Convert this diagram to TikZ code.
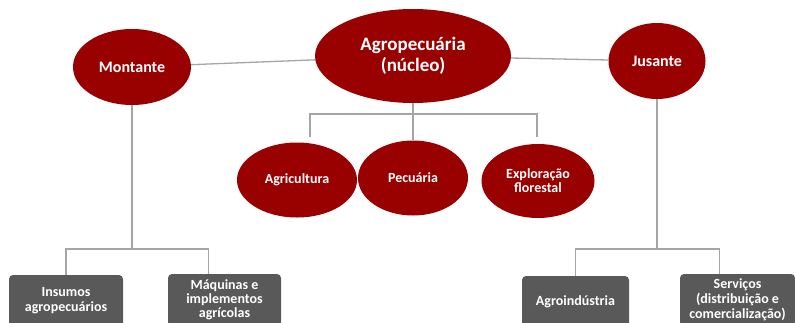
\documentclass[tikz,border=0pt]{standalone}
\usepackage{fontspec}
\setmainfont{Carlito}
\usetikzlibrary{shapes.geometric}
\definecolor{vinho}{RGB}{153,0,0}
\definecolor{cinza}{RGB}{89,89,89}
\definecolor{linha}{RGB}{165,165,165}

\begin{document}
\begin{tikzpicture}[x=1pt,y=-1pt]
\tikzstyle{elip}=[ellipse, fill=vinho, text=white, inner sep=0pt, align=center]
\tikzstyle{caixa}=[rectangle, rounded corners=4pt, fill=cinza, text=white, inner sep=0pt,
    align=center, minimum height=52pt, font=\fontsize{14}{15}\selectfont\bfseries]
\tikzstyle{liga}=[draw=linha, line width=1.3pt]

\path[use as bounding box] (0,0) rectangle (795,322);
\clip (0,0) rectangle (795,322);

    \node[elip, minimum width=196pt, minimum height=94pt,
    font=\fontsize{19}{21}\selectfont\bfseries] (agro) at (413,56) {Agropecuária\\(núcleo)};

\node[elip, minimum width=118pt, minimum height=76pt,
    font=\fontsize{16}{18}\selectfont\bfseries] (montante) at (132,67) {Montante};
\node[elip, minimum width=97pt, minimum height=76pt,
    font=\fontsize{16}{18}\selectfont\bfseries] (jusante) at (657,61) {Jusante};

 \node[elip, minimum width=120pt, minimum height=75pt,
    font=\fontsize{14}{14}\selectfont\bfseries] (agricultura) at (297,180) {Agricultura};
 \node[elip, minimum width=110pt, minimum height=75pt,
    font=\fontsize{14}{14}\selectfont\bfseries] (pecuaria) at (413,178) {Pecuária};
 \node[elip, minimum width=113pt, minimum height=74pt,
    font=\fontsize{14}{14}\selectfont\bfseries] (exploracao) at (538,181) {Exploração\\florestal};

\node[caixa, minimum width=114pt] (insumos) at (66,301) {Insumos\\agropecuários};
\node[caixa, minimum width=113pt, font=\fontsize{14}{14}\selectfont\bfseries] (maquinas) at (224.5,300) {Máquinas e\\implementos\\agrícolas};
\node[caixa, minimum width=107pt] (agroind) at (575.5,302) {Agroindústria};
\node[caixa, minimum width=115pt] (servicos) at (737.5,300) {Serviços\\(distribuição e\\comercialização)};

\draw[liga] (montante)--(agro);
\draw[liga] (agro)--(jusante);

\coordinate (barL) at (310,114);
\coordinate (barR) at (537,114);
\coordinate (tickL) at (310,137);
\coordinate (tickR) at (537,137);
\draw[liga] (agro.south)--(pecuaria.north);
\draw[liga] (tickL)--(barL)--(barR)--(tickR);

\coordinate (mjoin) at (132,249);
\draw[liga] (montante.south)--(mjoin);
\draw[liga] (insumos.north) |- (mjoin) -| ([xshift=-16pt]maquinas.north);

\coordinate (jjoin) at (657,249);
\draw[liga] (jusante.south)--(jjoin);
\draw[liga] (agroind.north) |- (jjoin) -| ([xshift=-18pt]servicos.north);
\end{tikzpicture}
\end{document}
